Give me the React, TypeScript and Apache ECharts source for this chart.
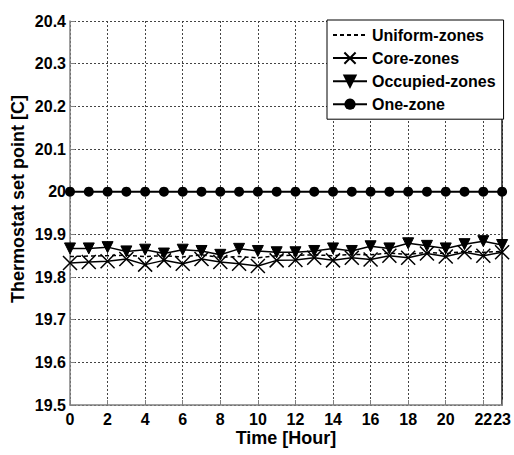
import React, { useEffect, useRef } from "react";
import * as echarts from "echarts";

const hours = [0, 1, 2, 3, 4, 5, 6, 7, 8, 9, 10, 11, 12, 13, 14, 15, 16, 17, 18, 19, 20, 21, 22, 23];
const uniformZones = [19.848, 19.849, 19.850, 19.851, 19.848, 19.850, 19.847, 19.852, 19.846, 19.848, 19.845, 19.850, 19.851, 19.852, 19.850, 19.853, 19.852, 19.856, 19.853, 19.858, 19.855, 19.860, 19.858, 19.860];
const coreZones = [19.833, 19.835, 19.837, 19.842, 19.829, 19.839, 19.831, 19.842, 19.835, 19.831, 19.826, 19.839, 19.840, 19.845, 19.839, 19.845, 19.841, 19.850, 19.845, 19.855, 19.848, 19.858, 19.850, 19.858];
const occupiedZones = [19.867, 19.867, 19.870, 19.860, 19.864, 19.855, 19.864, 19.861, 19.852, 19.866, 19.861, 19.858, 19.858, 19.861, 19.867, 19.861, 19.872, 19.867, 19.879, 19.873, 19.867, 19.877, 19.884, 19.875];
const oneZone = [20, 20, 20, 20, 20, 20, 20, 20, 20, 20, 20, 20, 20, 20, 20, 20, 20, 20, 20, 20, 20, 20, 20, 20];
const seriesNames = ["Uniform-zones", "Core-zones", "Occupied-zones", "One-zone"];
const xTitle = "Time [Hour]";
const yTitle = "Thermostat set point [C]";

const FONT = "'Liberation Sans', Arial, sans-serif";
const pairs = (ys: number[]) => hours.map((h, i) => [h, ys[i]]);

export default function App() {
  const ref = useRef<HTMLDivElement>(null);
  useEffect(() => {
    if (!ref.current) return;
    const chart = echarts.init(ref.current, undefined, { renderer: "svg" });
    const gridLine = { show: true, lineStyle: { color: "#444", type: [2, 2] as any, width: 1 } };
    chart.setOption({
      animation: false,
      backgroundColor: "#fff",
      textStyle: { fontFamily: FONT },
      grid: { left: 70, right: 11, top: 21, bottom: 50 },
      legend: {
        left: 327,
        top: 20,
        orient: "vertical",
        backgroundColor: "#fff",
        borderColor: "#000",
        borderWidth: 1,
        borderRadius: 0,
        padding: [7, 8, 7, 5],
        itemGap: 7,
        itemWidth: 34,
        itemHeight: 14,
        textStyle: { fontFamily: FONT, fontWeight: "bold", fontSize: 16, color: "#000" },
        data: seriesNames,
      },
      xAxis: {
        type: "value",
        min: 0,
        max: 23,
        interval: 2,
        axisLine: { show: true, lineStyle: { color: "#808080", width: 1.5 } },
        axisTick: { show: true, inside: true, length: 5, lineStyle: { color: "#808080" } },
        axisLabel: {
          showMaxLabel: true,
          showMinLabel: true,
          margin: 6,
          fontFamily: FONT,
          fontWeight: "bold",
          fontSize: 16,
          color: "#000",
        },
        splitLine: gridLine,
      },
      yAxis: [
        {
          type: "value",
          min: 19.5,
          max: 20.4,
          interval: 0.1,
          axisLine: { show: true, lineStyle: { color: "#808080", width: 1.5 } },
          axisTick: { show: true, inside: true, length: 5, lineStyle: { color: "#808080" } },
          axisLabel: {
            margin: 4,
            fontFamily: FONT,
            fontWeight: "bold",
            fontSize: 16,
            color: "#000",
            formatter: (v: number) => (Math.abs(v - 20) < 1e-6 ? "20" : v.toFixed(1)),
          },
          splitLine: gridLine,
        },
        {
          type: "value",
          position: "right",
          min: 19.5,
          max: 20.4,
          interval: 0.1,
          axisLine: { show: true, lineStyle: { color: "#222", width: 1.5 } },
          axisTick: { show: false },
          axisLabel: { show: false },
          splitLine: { show: false },
        },
      ],
      graphic: [
        {
          type: "text",
          x: 18,
          y: 199,
          rotation: Math.PI / 2,
          style: {
            text: yTitle,
            fontFamily: FONT,
            fontWeight: "bold",
            fontSize: 18,
            fill: "#000",
            align: "center",
            verticalAlign: "middle",
          },
        },
        {
          type: "text",
          x: 286,
          y: 438,
          style: {
            text: xTitle,
            fontFamily: FONT,
            fontWeight: "bold",
            fontSize: 18,
            fill: "#000",
            align: "center",
            verticalAlign: "middle",
          },
        },
      ],
      series: [
        {
          name: seriesNames[0],
          type: "line",
          data: pairs(uniformZones),
          symbol: "none",
          lineStyle: { color: "#000", width: 1.5, type: [4, 3] as any },
          itemStyle: { color: "transparent", borderColor: "transparent", borderWidth: 0 },
          z: 3,
        },
        {
          name: seriesNames[1],
          type: "line",
          data: pairs(coreZones),
          symbol: "path://M0,0L10,10M10,0L0,10",
          symbolSize: 14,
          showAllSymbol: true,
          lineStyle: { color: "#000", width: 1.5 },
          itemStyle: { color: "none", borderColor: "#000", borderWidth: 1.5 },
          z: 4,
        },
        {
          name: seriesNames[2],
          type: "line",
          data: pairs(occupiedZones),
          symbol: "triangle",
          symbolRotate: 180,
          symbolSize: 11,
          showAllSymbol: true,
          lineStyle: { color: "#000", width: 1.5 },
          itemStyle: { color: "#000", borderColor: "#000", borderWidth: 1 },
          z: 5,
        },
        {
          name: seriesNames[3],
          type: "line",
          data: pairs(oneZone),
          symbol: "circle",
          symbolSize: 10,
          showAllSymbol: true,
          lineStyle: { color: "#000", width: 2 },
          itemStyle: { color: "#000" },
          z: 6,
        },
      ],
    });
    return () => chart.dispose();
  }, []);
  return <div ref={ref} style={{ width: 514, height: 455, position: "absolute", left: 0, top: 0 }} />;
}
